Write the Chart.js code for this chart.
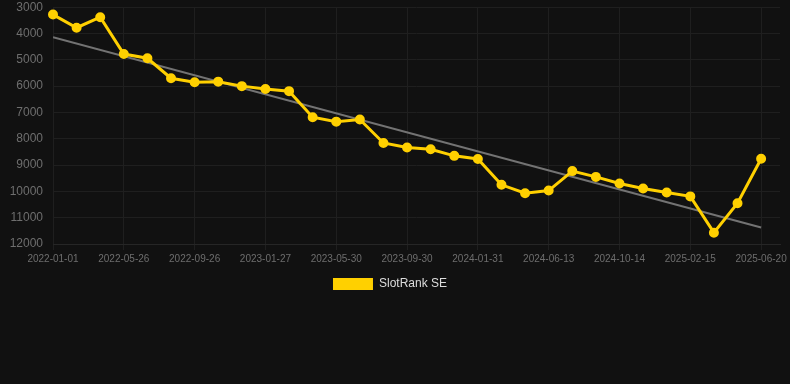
<!DOCTYPE html>
<html>
<head>
<meta charset="utf-8">
<script src="https://cdn.jsdelivr.net/npm/chart.js@4/dist/chart.umd.min.js"></script>
<style>
    html, body { margin: 0; padding: 0; background: #111111; }
    #wrap { width: 790px; height: 300px; position: relative; }
</style>
</head>
<body>
<div id="wrap"><canvas id="rankChart"></canvas></div>
<script>
// dates shown on the x axis (every 3rd one is labelled)
const dates = [
    "2022-01-01", "2022-02-18", "2022-04-07", "2022-05-26", "2022-07-06", "2022-08-16",
    "2022-09-26", "2022-11-06", "2022-12-17", "2023-01-27", "2023-03-09", "2023-04-19",
    "2023-05-30", "2023-07-10", "2023-08-20", "2023-09-30", "2023-11-10", "2023-12-21",
    "2024-01-31", "2024-03-15", "2024-04-29", "2024-06-13", "2024-07-24", "2024-09-03",
    "2024-10-14", "2024-11-24", "2025-01-05", "2025-02-15", "2025-03-28", "2025-05-09",
    "2025-06-20"
];
// SlotRank SE rank per date
const rankSE = [
    3280, 3780, 3380, 4780, 4940, 5700, 5850, 5830, 6000, 6110, 6190,
    7180, 7350, 7270, 8160, 8330, 8400, 8650, 8770, 9750, 10070, 9970,
    9230, 9450, 9700, 9890, 10040, 10190, 11570, 10450, 8760
];
// trend line, first and last date
const trendValues = [4140, 11370];
const yTicks = [3000, 12000, 1000]; // min, max, step

document.addEventListener("DOMContentLoaded", function () {
    const lastIdx = dates.length - 1;
    const seData = rankSE.map((v, i) => ({ x: i, y: v }));
    const trendData = [{ x: 0, y: trendValues[0] }, { x: lastIdx, y: trendValues[1] }];

    Chart.defaults.font.family = "'Liberation Sans', Arial, sans-serif";

    new Chart(document.querySelector("#rankChart"), {
        type: "line",
        data: {
            datasets: [
                {
                    label: "SlotRank SE",
                    data: seData,
                    borderColor: "#ffd000",
                    backgroundColor: "#ffd000",
                    borderWidth: 3,
                    pointRadius: 4,
                    pointBorderWidth: 2,
                    pointBackgroundColor: "#ffd000",
                    pointBorderColor: "#ffd000",
                    tension: 0,
                    clip: false
                },
                {
                    label: "trend",
                    data: trendData,
                    borderColor: "#737373",
                    borderWidth: 2,
                    pointRadius: 0,
                    tension: 0
                }
            ]
        },
        options: {
            responsive: true,
            maintainAspectRatio: false,
            animation: false,
            layout: { padding: { left: 0, right: 10, top: -1, bottom: 0 } },
            scales: {
                x: {
                    type: "linear",
                    min: 0,
                    max: 30.8,
                    grid: { color: "#1f1f1f", tickLength: 6 },
                    border: { color: "#262626" },
                    ticks: {
                        stepSize: 3,
                        includeBounds: false,
                        autoSkip: false,
                        maxRotation: 0,
                        color: "#6e6e6e",
                        font: { size: 10 },
                        callback: v => dates[v] ?? ""
                    }
                },
                y: {
                    reverse: true,
                    min: yTicks[0],
                    max: yTicks[1],
                    afterFit: scale => { scale.width = 53; },
                    grid: { color: "#1f1f1f", tickLength: 10, tickColor: "transparent" },
                    border: { display: false },
                    ticks: {
                        stepSize: yTicks[2],
                        padding: 0,
                        color: "#6e6e6e",
                        font: { size: 12 },
                        callback: v => String(v)
                    }
                }
            },
            plugins: {
                legend: {
                    position: "bottom",
                    labels: {
                        color: "#dddddd",
                        boxWidth: 40,
                        boxHeight: 12,
                        font: { size: 12 },
                        filter: item => item.text !== "trend",
                        generateLabels: chart =>
                            Chart.defaults.plugins.legend.labels.generateLabels(chart)
                                .map(item => Object.assign(item, { lineWidth: 0 }))
                    }
                },
                tooltip: { enabled: false }
            }
        }
    });
});
</script>
</body>
</html>
